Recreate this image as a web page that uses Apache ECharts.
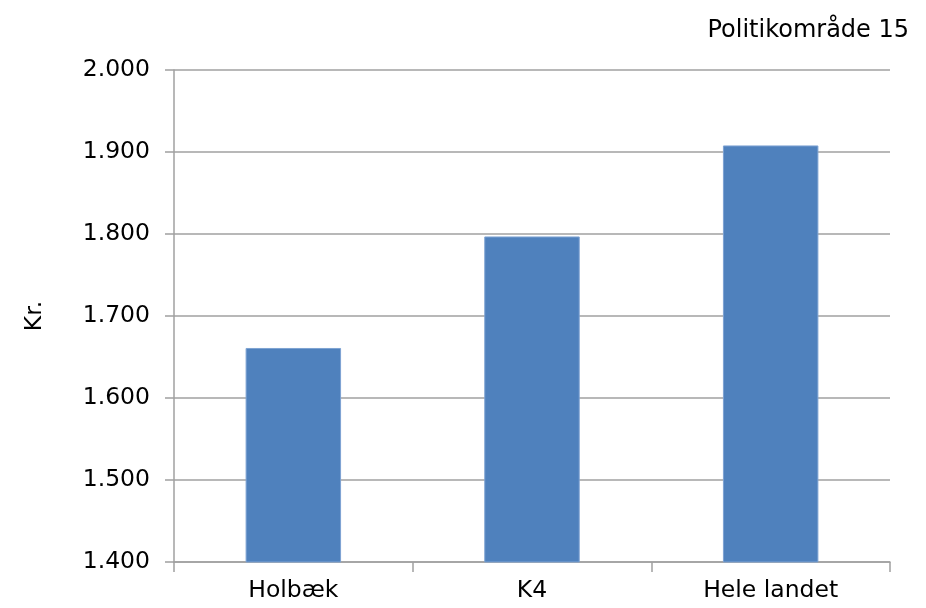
<!DOCTYPE html>
<html><head><meta charset="utf-8">
<script src="https://cdn.jsdelivr.net/npm/echarts@6/dist/echarts.min.js"></script>
<style>html,body{margin:0;padding:0;background:#fff}#c{width:926px;height:608px}</style>
</head><body><div id="c"></div>
<script>
const categories = ['Holbæk', 'K4', 'Hele landet'];
const values = [1661, 1797, 1908];
const yMin = 1400, yMax = 2000, yStep = 100;
const titleText = 'Politikområde 15';
const yName = 'Kr.';

const chart = echarts.init(document.getElementById('c'));
const font = 'DejaVu Sans, Verdana, sans-serif';
chart.setOption({
  animation: false,
  title: { text: titleText, right: 12, top: 14, textStyle: { fontFamily: font, fontSize: 24, fontWeight: 'normal', color: '#000' } },
  grid: { left: 174, right: 36, top: 70, bottom: 46, containLabel: false },
  xAxis: {
    type: 'category', data: categories,
    axisLine: { lineStyle: { color: '#a0a0a0', width: 1.5 } },
    axisTick: { show: true, length: 10, alignWithLabel: false, lineStyle: { color: '#a0a0a0', width: 1.5 } },
    axisLabel: { fontFamily: font, fontSize: 23.5, color: '#000', margin: 17 }
  },
  yAxis: {
    type: 'value', min: yMin, max: yMax, interval: yStep,
    name: yName, nameLocation: 'middle', nameGap: 127, nameRotate: 90,
    nameTextStyle: { fontFamily: font, fontSize: 23.5, color: '#000' },
    axisLine: { show: true, lineStyle: { color: '#a0a0a0', width: 1.5 } },
    axisTick: { show: true, length: 9, lineStyle: { color: '#a0a0a0', width: 1.5 } },
    splitLine: { lineStyle: { color: '#a0a0a0', width: 1.5 } },
    axisLabel: { fontFamily: font, fontSize: 23.5, color: '#000', margin: 24,
      formatter: v => String(v).replace(/\B(?=(\d{3})+(?!\d))/g, '.') }
  },
  series: [{ type: 'bar', data: values, barWidth: '40%',
    itemStyle: { color: '#4f81bd', borderColor: '#7ea3d3', borderWidth: 1 } }]
});
</script></body></html>
